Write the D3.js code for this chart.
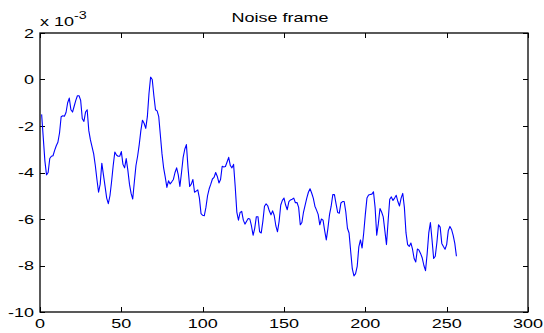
<!DOCTYPE html>
<html>
<head>
<meta charset="utf-8">
<script src="https://cdn.jsdelivr.net/npm/d3@7"></script>
<style>
  html, body { margin: 0; padding: 0; background: #fff; }
  svg { display: block; }
  text { font-family: "Liberation Sans", Arial, sans-serif; fill: #000; }
</style>
</head>
<body>
<svg id="chart" width="544" height="333"></svg>
<script>
// Sample index of the noise frame (1..256)
const sampleCount = 256;

// Noise amplitude per sample, in units of 1e-3
const noiseValues = [
  -1.5, -2.5, -3.5, -4.1, -4.0, -3.4, -3.3, -3.28, -3.05, -2.85,
  -2.7, -2.3, -1.6, -1.56, -1.58, -1.42, -1.0, -0.8, -1.3, -1.4,
  -1.15, -0.9, -0.7, -0.7, -0.9, -1.69, -1.8, -1.4, -1.3, -2.2,
  -2.6, -2.9, -3.2, -3.7, -4.3, -4.85, -4.5, -3.6, -4.1, -4.6,
  -5.1, -5.34, -5.0, -4.4, -3.7, -3.12, -3.25, -3.3, -3.3, -3.1,
  -3.65, -3.8, -3.4, -3.9, -4.5, -4.9, -5.14, -4.4, -3.7, -3.3,
  -2.8, -2.2, -1.75, -1.88, -2.1, -1.6, -0.6, 0.1, 0.0, -0.7,
  -1.3, -1.35, -1.6, -2.4, -3.2, -3.8, -4.2, -4.64, -4.36, -4.49,
  -4.4, -4.3, -4.0, -3.8, -4.1, -4.6, -4.0, -3.35, -3.0, -2.8,
  -3.8, -4.6, -4.5, -4.3, -4.85, -4.8, -4.75, -5.1, -5.77, -5.84,
  -5.86, -5.5, -5.0, -4.7, -4.5, -4.28, -4.21, -4.0, -4.17, -4.45,
  -4.3, -3.73, -3.76, -3.74, -3.55, -3.35, -3.7, -3.8, -3.65, -4.6,
  -5.7, -6.05, -5.72, -5.67, -6.05, -6.22, -6.1, -5.98, -6.0, -6.3,
  -6.7, -6.4, -5.9, -5.9, -6.55, -6.6, -6.1, -5.45, -5.35, -5.43,
  -5.66, -5.82, -5.65, -5.85, -6.3, -6.55, -6.1, -5.4, -5.2, -5.1,
  -5.4, -5.6, -5.25, -5.18, -5.15, -5.1, -5.3, -5.29, -5.5, -6.25,
  -6.15, -5.7, -5.4, -5.1, -4.85, -4.7, -4.88, -5.1, -5.45, -5.62,
  -5.8, -6.25, -6.0, -6.05, -6.5, -6.9, -6.4, -5.8, -5.45, -4.95,
  -4.95, -5.35, -5.72, -5.75, -5.31, -5.25, -5.25, -5.7, -6.4, -6.6,
  -7.4, -8.15, -8.45, -8.35, -8.04, -7.2, -6.9, -7.25, -6.6, -5.8,
  -5.1, -4.97, -4.95, -4.93, -4.83, -5.5, -6.7, -6.2, -5.55, -5.7,
  -5.91, -6.5, -7.1, -6.1, -5.15, -5.05, -5.2, -5.1, -4.98, -5.25,
  -5.44, -5.1, -4.9, -5.5, -6.6, -7.1, -7.18, -7.03, -7.3, -7.7,
  -7.85, -7.29, -7.34, -7.49, -7.68, -8.0, -8.22, -7.5, -6.6, -6.15,
  -6.9, -7.7, -7.6, -7.0, -6.25, -6.35, -7.05, -7.18, -7.3, -7.1,
  -6.5, -6.32, -6.45, -6.7, -7.05, -7.6
];

const xTicks = [0, 50, 100, 150, 200, 250, 300];
const yTicks = [-10, -8, -6, -4, -2, 0, 2];

const titleText = "Noise frame";
const exponentBase = "x 10";
const exponentPower = "-3";

// Text in this figure is drawn wide; stretch glyphs horizontally
const stretch = 1.43;
const fontSize = 12.6;

const svg = d3.select("#chart");
const plot = { left: 40, right: 528, top: 33, bottom: 312 };

const x = d3.scaleLinear().domain([0, 300]).range([plot.left, plot.right]);
const y = d3.scaleLinear().domain([-10, 2]).range([plot.bottom, plot.top]);

const data = noiseValues.map((v, i) => ({ n: i + 1, v }));

// Axes box
svg.append("rect")
  .attr("x", plot.left).attr("y", plot.top)
  .attr("width", plot.right - plot.left).attr("height", plot.bottom - plot.top)
  .attr("fill", "none").attr("stroke", "#000").attr("stroke-width", 1.3);

const tickLen = 5;
const ticks = svg.append("g").attr("stroke", "#000").attr("stroke-width", 1);

// Inward ticks on all four sides
xTicks.forEach(t => {
  const px = Math.round(x(t)) + 0.5;
  ticks.append("line").attr("x1", px).attr("x2", px).attr("y1", plot.bottom).attr("y2", plot.bottom - tickLen);
  ticks.append("line").attr("x1", px).attr("x2", px).attr("y1", plot.top).attr("y2", plot.top + tickLen);
});
yTicks.forEach(t => {
  const py = Math.round(y(t)) + 0.5;
  ticks.append("line").attr("y1", py).attr("y2", py).attr("x1", plot.left).attr("x2", plot.left + tickLen);
  ticks.append("line").attr("y1", py).attr("y2", py).attr("x1", plot.right).attr("x2", plot.right - tickLen);
});

function stretchedText(g, tx, ty, str, anchor, size) {
  return g.append("text")
    .attr("transform", `translate(${tx},${ty}) scale(${stretch},1)`)
    .attr("text-anchor", anchor)
    .attr("font-size", size || fontSize)
    .text(str);
}

const labels = svg.append("g");
xTicks.forEach(t => stretchedText(labels, x(t), 328, t, "middle"));
yTicks.forEach(t => stretchedText(labels, 34, y(t) + 4.5, t, "end"));

// Title
stretchedText(svg, (plot.left + plot.right) / 2 - 4, 22, titleText, "middle");

// Exponent marker above the y axis
const ex = svg.append("text")
  .attr("transform", `translate(40,25.5) scale(${stretch},1)`)
  .attr("font-size", fontSize);
ex.append("tspan").text(exponentBase);
ex.append("tspan").attr("dy", -7).attr("font-size", 10).text(exponentPower);

// Noise trace
const line = d3.line().x(d => x(d.n)).y(d => y(d.v));
svg.append("path")
  .datum(data)
  .attr("fill", "none")
  .attr("stroke", "#0000ff")
  .attr("stroke-width", 1.1)
  .attr("stroke-linejoin", "round")
  .attr("d", line);
</script>
</body>
</html>
